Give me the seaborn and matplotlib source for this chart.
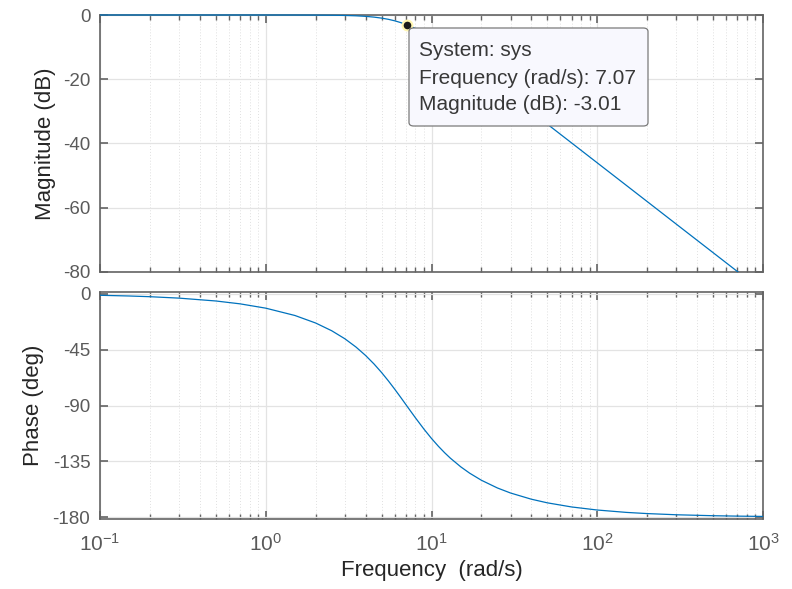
import numpy as np
import pandas as pd
import matplotlib
matplotlib.use("Agg")
import matplotlib.pyplot as plt
import seaborn as sns
from matplotlib.patches import FancyBboxPatch, Rectangle
from matplotlib.ticker import LogLocator, NullFormatter

# --- values (rad/s, dB, deg) ---
freq = [0.1, 0.15, 0.2, 0.3, 0.5, 0.7, 1.0, 1.5, 2.0, 2.5, 3.0, 3.5, 4.0, 4.5,
        5.0, 5.5, 6.0, 6.5, 7.07, 7.5, 8.0, 9.0, 10.0, 11.0, 12.0, 13.0, 15.0,
        17.0, 20.0, 25.0, 30.0, 40.0, 50.0, 70.0, 100.0, 150.0, 200.0, 300.0,
        500.0, 707.0, 1000.0]
magnitude_db = [0.0, 0.0, 0.0, 0.0, 0.0, 0.0, -0.002, -0.01, -0.03, -0.07, -0.14,
                -0.25, -0.42, -0.66, -0.97, -1.35, -1.81, -2.34, -3.01, -3.55,
                -4.21, -5.59, -6.99, -8.36, -9.68, -10.94, -13.27, -15.37, -18.13,
                -21.97, -25.12, -30.11, -33.98, -39.82, -46.02, -53.06, -58.06,
                -65.11, -73.98, -80.0, -86.02]
phase_deg = [-1.15, -1.72, -2.29, -3.44, -5.74, -8.05, -11.53, -17.44, -23.50,
             -29.74, -36.19, -42.84, -49.64, -56.53, -63.43, -70.25, -76.87,
             -83.20, -90.0, -94.76, -99.93, -109.01, -116.57, -122.84, -128.07,
             -132.47, -139.40, -144.58, -150.26, -156.50, -160.56, -165.53,
             -168.47, -171.79, -174.26, -176.18, -177.13, -178.09, -178.85,
             -179.19, -179.43]

mag_ticks = [-80, -60, -40, -20, 0]
phase_ticks = [-180, -135, -90, -45, 0]

# datatip
tip_freq = 7.07
tip_mag = -3.01
tip_lines = ["System: sys", "Frequency (rad/s): 7.07", "Magnitude (dB): -3.01"]

df = pd.DataFrame({"freq": freq, "mag": magnitude_db, "phase": phase_deg})

sns.set_theme(style="ticks")
plt.rcParams["font.family"] = ["Liberation Sans", "DejaVu Sans"]
plt.rcParams["mathtext.default"] = "regular"
plt.rcParams["axes.unicode_minus"] = False

line_col = "#0072BD"
frame_col = "#636363"
tick_txt = "#5a5a5a"
label_txt = "#262626"

fig = plt.figure(figsize=(7.92, 5.89), dpi=100)
W, H = 792, 589
ax1 = fig.add_axes([100 / W, 1 - 272 / H, 663 / W, 257 / H])
ax2 = fig.add_axes([100 / W, 1 - 519 / H, 663 / W, 227 / H])

sns.lineplot(data=df, x="freq", y="mag", ax=ax1, color=line_col, linewidth=0.9,
             estimator=None, sort=False, zorder=5)
sns.lineplot(data=df, x="freq", y="phase", ax=ax2, color=line_col, linewidth=0.9,
             estimator=None, sort=False, zorder=5)

for ax in (ax1, ax2):
    ax.set_xscale("log")
    ax.set_xlim(0.1, 1000)
    ax.xaxis.set_major_locator(LogLocator(base=10, numticks=10))
    ax.xaxis.set_minor_locator(LogLocator(base=10, subs=np.arange(2, 10), numticks=20))
    ax.xaxis.set_minor_formatter(NullFormatter())
    ax.grid(which="major", color="#e3e3e3", linewidth=0.9, linestyle="-")
    ax.grid(which="minor", axis="x", color="#e0e0e0", linewidth=0.7, linestyle=(0, (1, 2)))
    ax.set_axisbelow(True)
    ax.tick_params(which="both", direction="in", top=True, right=True,
                   color=frame_col, labelcolor=tick_txt, labelsize=13.5)
    ax.tick_params(which="major", length=6, width=1.2)
    ax.tick_params(which="minor", length=3.5, width=1.0)
    ax.tick_params(axis="y", pad=7)
    for sp in ax.spines.values():
        sp.set_color(frame_col)
        sp.set_linewidth(1.2)
        sp.set_zorder(4)
    ax.set_xlabel("")

ax1.set_ylim(-80, 0)
ax1.set_yticks(mag_ticks)
ax1.tick_params(axis="x", labelbottom=False)
ax1.set_ylabel("Magnitude (dB)", fontsize=16, color=label_txt)
# the flat 0 dB part sits on the top edge: let it show over the frame
ax1.lines[0].set_clip_path(Rectangle((0, 0), 1, 1.02, transform=ax1.transAxes))

ax2.set_ylim(-181.5, 1.5)
ax2.set_yticks(phase_ticks)
ax2.set_ylabel("Phase (deg)", fontsize=16, color=label_txt)
ax2.set_xlabel("Frequency  (rad/s)", fontsize=16, color=label_txt, labelpad=4)
ax2.tick_params(axis="x", pad=10, labelsize=15)

ax1.yaxis.set_label_coords(-0.066, 0.5)
ax2.yaxis.set_label_coords(-0.085, 0.5)

# datatip marker and box
ax1.plot([tip_freq], [tip_mag], marker="o", markersize=7, color="#1a1a1a",
         markeredgecolor="#fff6b0", markeredgewidth=1.5, zorder=6, clip_on=False)
box = FancyBboxPatch((409 / W, 1 - 126 / H), 239 / W, 98 / H,
                     boxstyle="round,pad=0,rounding_size=0.006",
                     transform=fig.transFigure, facecolor="#f8f8fe",
                     edgecolor="#7a7a7a", linewidth=0.9, zorder=10)
fig.patches.append(box)
for i, t in enumerate(tip_lines):
    fig.text(419 / W, 1 - (51 + i * 27) / H, t, fontsize=15, color="#383838",
             va="center", ha="left", zorder=11)

fig.savefig("out.png", dpi=100)
